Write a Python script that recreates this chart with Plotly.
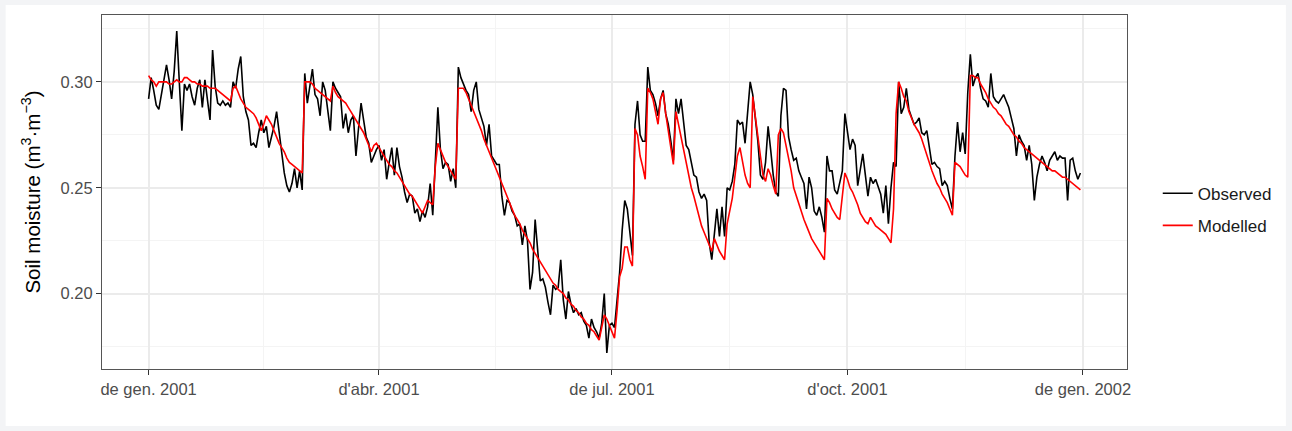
import pandas as pd
import plotly.graph_objects as go

start_date = "2001-01-01"

observed = [
    0.292, 0.302, 0.296, 0.289, 0.287, 0.294, 0.299, 0.308, 0.301, 0.292,
    0.305, 0.324, 0.300, 0.277, 0.299, 0.296, 0.299, 0.293, 0.289, 0.297,
    0.301, 0.288, 0.301, 0.292, 0.282, 0.315, 0.298, 0.290, 0.289, 0.291,
    0.289, 0.290, 0.288, 0.300, 0.297, 0.306, 0.312, 0.293, 0.286, 0.282,
    0.270, 0.271, 0.269, 0.276, 0.282, 0.276, 0.279, 0.269, 0.274, 0.279,
    0.286, 0.276, 0.267, 0.257, 0.251, 0.248, 0.252, 0.259, 0.250, 0.258,
    0.249, 0.304, 0.290, 0.299, 0.306, 0.294, 0.292, 0.284, 0.300, 0.296,
    0.286, 0.277, 0.300, 0.297, 0.295, 0.293, 0.278, 0.285, 0.276, 0.282,
    0.284, 0.265, 0.278, 0.290, 0.282, 0.274, 0.271, 0.262, 0.265, 0.268,
    0.270, 0.263, 0.268, 0.254, 0.262, 0.269, 0.256, 0.269, 0.260, 0.255,
    0.248, 0.243, 0.247, 0.246, 0.238, 0.240, 0.234, 0.239, 0.236, 0.241,
    0.252, 0.237, 0.262, 0.288, 0.268, 0.259, 0.262, 0.261, 0.253, 0.259,
    0.250, 0.307, 0.302, 0.299, 0.296, 0.294, 0.286, 0.296, 0.300, 0.287,
    0.283, 0.279, 0.270, 0.280, 0.265, 0.263, 0.261, 0.261, 0.246, 0.237,
    0.244, 0.243, 0.239, 0.237, 0.232, 0.233, 0.223, 0.232, 0.225, 0.202,
    0.210, 0.235, 0.222, 0.206, 0.207, 0.203, 0.196, 0.190, 0.204, 0.202,
    0.203, 0.216, 0.197, 0.188, 0.201, 0.195, 0.191, 0.193, 0.190, 0.191,
    0.187, 0.185, 0.179, 0.188, 0.184, 0.182, 0.179, 0.186, 0.200, 0.172,
    0.185, 0.186, 0.184, 0.199, 0.210, 0.230, 0.244, 0.240, 0.228, 0.218,
    0.280, 0.291, 0.275, 0.272, 0.272, 0.307, 0.296, 0.294, 0.290, 0.284,
    0.292, 0.296, 0.285, 0.280, 0.272, 0.263, 0.292, 0.285, 0.292, 0.280,
    0.270, 0.268, 0.262, 0.256, 0.255, 0.248, 0.245, 0.247, 0.244, 0.224,
    0.216, 0.230, 0.240, 0.227, 0.241, 0.227, 0.250, 0.249, 0.253, 0.261,
    0.282, 0.280, 0.281, 0.271, 0.285, 0.300, 0.294, 0.284, 0.272, 0.256,
    0.254, 0.262, 0.279, 0.268, 0.256, 0.248, 0.246, 0.284, 0.297, 0.296,
    0.274, 0.268, 0.263, 0.264, 0.258, 0.255, 0.252, 0.240, 0.255, 0.250,
    0.239, 0.237, 0.241, 0.236, 0.229, 0.265, 0.258, 0.258, 0.249, 0.247,
    0.253, 0.258, 0.285, 0.276, 0.268, 0.273, 0.270, 0.251, 0.258, 0.266,
    0.256, 0.246, 0.255, 0.252, 0.254, 0.250, 0.247, 0.238, 0.251, 0.233,
    0.250, 0.262, 0.260, 0.300, 0.285, 0.288, 0.297, 0.287, 0.283, 0.280,
    0.281, 0.283, 0.276, 0.275, 0.277, 0.268, 0.261, 0.262, 0.260, 0.259,
    0.251, 0.253, 0.251, 0.245, 0.240, 0.265, 0.281, 0.267, 0.276, 0.266,
    0.295, 0.313, 0.298, 0.302, 0.304, 0.297, 0.292, 0.291, 0.288, 0.304,
    0.293, 0.291, 0.290, 0.292, 0.294, 0.291, 0.288, 0.283, 0.278, 0.265,
    0.275, 0.272, 0.270, 0.263, 0.270, 0.261, 0.244, 0.255, 0.261, 0.265,
    0.262, 0.258, 0.263, 0.265, 0.267, 0.263, 0.265, 0.264, 0.264, 0.244,
    0.263, 0.264, 0.258, 0.254, 0.257,
]

modelled = [
    0.303, 0.301, 0.300, 0.298, 0.300, 0.300, 0.300, 0.300, 0.299, 0.299,
    0.300, 0.301, 0.300, 0.300, 0.302, 0.302, 0.301, 0.300, 0.300, 0.299,
    0.299, 0.298, 0.298, 0.298, 0.297, 0.297, 0.297, 0.296, 0.295, 0.294,
    0.293, 0.292, 0.291, 0.297, 0.298, 0.295, 0.292, 0.290, 0.288, 0.287,
    0.286, 0.285, 0.283, 0.280, 0.277, 0.280, 0.284, 0.282, 0.280, 0.277,
    0.274, 0.271, 0.269, 0.267, 0.264, 0.262, 0.261, 0.260, 0.259, 0.258,
    0.257, 0.300, 0.300, 0.300, 0.299, 0.297, 0.296, 0.295, 0.294, 0.293,
    0.292, 0.291, 0.298, 0.295, 0.293, 0.292, 0.291, 0.290, 0.288, 0.286,
    0.284, 0.282, 0.280, 0.278, 0.276, 0.273, 0.270, 0.267, 0.270, 0.271,
    0.269, 0.267, 0.265, 0.263, 0.261, 0.260, 0.258, 0.257, 0.255, 0.253,
    0.251, 0.249, 0.247, 0.246, 0.244, 0.242, 0.240, 0.238, 0.241, 0.244,
    0.243, 0.242, 0.260, 0.271, 0.268, 0.265, 0.262, 0.260, 0.258, 0.256,
    0.254, 0.297, 0.297, 0.297, 0.295, 0.292, 0.289, 0.286, 0.283, 0.280,
    0.277, 0.273, 0.270, 0.267, 0.264, 0.261, 0.258, 0.255, 0.252, 0.249,
    0.246, 0.243, 0.240, 0.237, 0.235, 0.233, 0.230, 0.228, 0.226, 0.224,
    0.221, 0.219, 0.217, 0.215, 0.213, 0.211, 0.209, 0.207, 0.205, 0.204,
    0.202, 0.201, 0.200, 0.198, 0.197, 0.195, 0.194, 0.192, 0.191, 0.189,
    0.188, 0.186, 0.185, 0.183, 0.182, 0.180, 0.178, 0.184, 0.190, 0.188,
    0.185, 0.182, 0.179, 0.192, 0.208, 0.212, 0.222, 0.222, 0.216, 0.213,
    0.278, 0.275, 0.265, 0.260, 0.254, 0.297, 0.295, 0.292, 0.285, 0.280,
    0.292, 0.295, 0.285, 0.277, 0.268, 0.261, 0.286, 0.280, 0.274, 0.268,
    0.262, 0.256, 0.250, 0.246, 0.241, 0.237, 0.232, 0.229, 0.226, 0.223,
    0.220, 0.226, 0.223, 0.220, 0.218, 0.216, 0.233, 0.240, 0.245, 0.255,
    0.265, 0.269, 0.262, 0.256, 0.252, 0.250, 0.293, 0.283, 0.274, 0.265,
    0.256, 0.253, 0.259, 0.256, 0.251, 0.247, 0.275, 0.278, 0.276, 0.270,
    0.264, 0.258, 0.250, 0.246, 0.242, 0.238, 0.235, 0.232, 0.229, 0.226,
    0.224, 0.222, 0.220, 0.218, 0.216, 0.245, 0.243, 0.240, 0.238, 0.236,
    0.235, 0.245, 0.257, 0.254, 0.250, 0.248, 0.245, 0.242, 0.238, 0.236,
    0.234, 0.233, 0.236, 0.234, 0.232, 0.231, 0.230, 0.229, 0.228, 0.226,
    0.224, 0.240, 0.285, 0.300, 0.297, 0.293, 0.291, 0.286, 0.283, 0.280,
    0.278, 0.276, 0.273, 0.269, 0.265, 0.262, 0.258, 0.255, 0.252, 0.250,
    0.247, 0.245, 0.243, 0.240, 0.237, 0.262, 0.261, 0.260, 0.258, 0.256,
    0.255, 0.303, 0.303, 0.302, 0.302, 0.299, 0.297, 0.295, 0.292, 0.290,
    0.288, 0.287, 0.285, 0.284, 0.282, 0.280, 0.279, 0.277, 0.275, 0.274,
    0.272, 0.271, 0.269, 0.268, 0.267, 0.266, 0.265, 0.264, 0.263, 0.262,
    0.261, 0.260, 0.259, 0.258, 0.258, 0.257, 0.256, 0.255, 0.255, 0.254,
    0.253, 0.252, 0.251, 0.250, 0.249,
]

series_names = ["Observed", "Modelled"]
x_tick_dates = ["2001-01-01", "2001-04-01", "2001-07-01", "2001-10-01", "2002-01-01"]
x_tick_labels = ["de gen. 2001", "d'abr. 2001", "de jul. 2001", "d'oct. 2001", "de gen. 2002"]
y_tick_vals = [0.20, 0.25, 0.30]
y_tick_labels = ["0.20", "0.25", "0.30"]
y_minor_vals = [0.175, 0.225, 0.275, 0.325]

dates_obs = pd.date_range(start_date, periods=len(observed), freq="D")
dates_mod = pd.date_range(start_date, periods=len(modelled), freq="D")

# ggplot-style minor breaks: midpoints between major date breaks
maj = pd.to_datetime(x_tick_dates)
x_minor = [maj[i] + (maj[i + 1] - maj[i]) / 2 for i in range(len(maj) - 1)]

# 5% expansion like ggplot
span = dates_obs[-1] - dates_obs[0]
x_range = [dates_obs[0] - span * 0.05, dates_obs[-1] + span * 0.05]
all_vals = observed + modelled
ymin, ymax = min(all_vals), max(all_vals)
yr = ymax - ymin
y_range = [ymin - 0.05 * yr, ymax + 0.05 * yr]

fig = go.Figure()
fig.add_trace(go.Scatter(x=dates_obs, y=observed, mode="lines", name=series_names[0],
                         line=dict(color="#000000", width=1.6), legendgroup="a"))
fig.add_trace(go.Scatter(x=dates_mod, y=modelled, mode="lines", name=series_names[1],
                         line=dict(color="#ff0000", width=1.6), legendgroup="b"))

font_family = "Liberation Sans, Arial, sans-serif"
fig.update_layout(
    width=1292, height=431,
    margin=dict(l=102, r=165, t=15, b=62),
    paper_bgcolor="#f3f4f6",
    plot_bgcolor="#ffffff",
    font=dict(family=font_family, size=17, color="#000000"),
    showlegend=True,
    legend=dict(x=1.03, xanchor="left", y=0.45, yanchor="middle",
                font=dict(size=17, color="#1a1a1a"), itemwidth=30,
                tracegroupgap=7, bgcolor="rgba(0,0,0,0)"),
    shapes=[dict(type="rect", xref="paper", yref="paper",
                 x0=-0.094, x1=1.155, y0=-0.161, y1=1.028,
                 fillcolor="#ffffff", line=dict(width=0), layer="below")],
)
fig.update_xaxes(
    type="date", range=x_range,
    tickmode="array", tickvals=maj, ticktext=x_tick_labels,
    tickfont=dict(size=16.5, color="#4d4d4d"),
    ticks="outside", ticklen=5, tickcolor="#333333", tickwidth=1,
    showgrid=True, gridcolor="#ebebeb", gridwidth=1.5,
    minor=dict(tickmode="array", tickvals=x_minor, showgrid=True,
               gridcolor="#f4f4f4", gridwidth=1, ticks=""),
    showline=True, linecolor="#555555", linewidth=1, mirror=True,
    zeroline=False,
)
fig.update_yaxes(
    range=y_range,
    tickmode="array", tickvals=y_tick_vals, ticktext=y_tick_labels,
    tickfont=dict(size=16.5, color="#4d4d4d"),
    ticks="outside", ticklen=5, tickcolor="#333333", tickwidth=1,
    showgrid=True, gridcolor="#ebebeb", gridwidth=1.5,
    minor=dict(tickmode="array", tickvals=y_minor_vals, showgrid=True,
               gridcolor="#f4f4f4", gridwidth=1, ticks=""),
    showline=True, linecolor="#555555", linewidth=1, mirror=True,
    zeroline=False,
    title=dict(text="Soil moisture (m<sup>3</sup>·m<sup>−3</sup>)",
               font=dict(size=20.5, color="#000000"), standoff=14),
)

fig.write_html("out.html", config={"displayModeBar": False},
               post_script="document.body.style.margin='0';")
